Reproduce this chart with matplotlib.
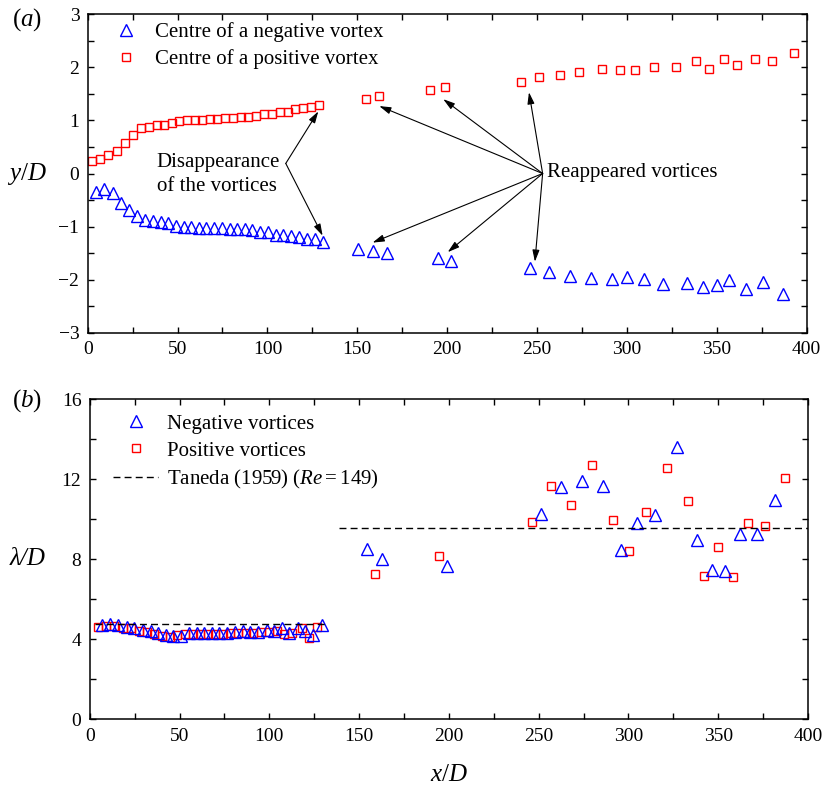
import matplotlib
matplotlib.use("Agg")
import matplotlib.pyplot as plt
from matplotlib.ticker import MultipleLocator

plt.rcParams['font.family'] = ['Liberation Serif', 'DejaVu Serif']
plt.rcParams['mathtext.fontset'] = 'custom'
plt.rcParams['mathtext.rm'] = 'Liberation Serif'
plt.rcParams['mathtext.it'] = 'Liberation Serif:italic'
plt.rcParams['font.size'] = 14

# ---- panel (a): vortex centre positions ----
neg_x = [4.4, 9.1, 13.9, 18.5, 23.2, 27.6, 32.1, 36.3, 40.6, 44.9, 49.3, 53.4, 57.7, 61.8, 66.0,
         70.3, 74.5, 79.0, 83.2, 87.3, 91.6, 96.0, 100.3, 104.6, 108.8, 113.3, 117.6, 122.0, 126.5, 131.1,
         150.2, 158.6, 166.5, 194.7, 202.1, 246.2, 256.6, 268.1, 279.8, 291.5, 299.9, 309.7, 319.9,
         333.6, 342.3, 349.9, 356.9, 366.4, 375.7, 386.6]
neg_y = [-0.35, -0.30, -0.37, -0.55, -0.69, -0.80, -0.88, -0.90, -0.92, -0.94, -0.99, -1.01, -1.01, -1.02, -1.02,
         -1.02, -1.03, -1.04, -1.05, -1.05, -1.06, -1.11, -1.11, -1.16, -1.16, -1.17, -1.20, -1.24, -1.24, -1.29,
         -1.42, -1.45, -1.49, -1.59, -1.64, -1.78, -1.86, -1.93, -1.96, -1.98, -1.94, -1.98, -2.08,
         -2.06, -2.13, -2.09, -2.01, -2.17, -2.05, -2.27]
pos_x = [2.2, 6.8, 11.5, 16.1, 20.8, 25.2, 29.8, 34.1, 38.6, 42.6, 46.9, 51.0, 55.2, 59.5, 63.8,
         67.9, 72.1, 76.4, 80.8, 85.1, 89.3, 93.8, 98.1, 102.4, 106.8, 111.3, 115.5, 119.8, 124.2, 128.7,
         154.8, 162.2, 190.4, 198.8, 241.2, 251.1, 262.8, 273.5, 286.1, 296.0, 304.5, 314.9, 327.5,
         338.4, 345.5, 354.2, 361.2, 371.2, 380.9, 393.0]
pos_y = [0.23, 0.27, 0.34, 0.42, 0.58, 0.72, 0.85, 0.87, 0.91, 0.92, 0.95, 0.99, 1.01, 1.01, 1.01,
         1.02, 1.02, 1.04, 1.05, 1.07, 1.06, 1.09, 1.12, 1.12, 1.16, 1.16, 1.22, 1.24, 1.25, 1.29,
         1.41, 1.46, 1.57, 1.63, 1.73, 1.81, 1.86, 1.91, 1.96, 1.94, 1.94, 2.01, 2.01,
         2.11, 1.97, 2.15, 2.05, 2.15, 2.11, 2.26]

# annotation anchors (data coords)
disappear_from = (110.2, 0.19)
disappear_to = [(128.3, 1.17), (130.7, -1.17)]
reappear_from = (253.1, 0.0)
reappear_to = [(162.2, 1.27), (197.8, 1.40), (245.5, 1.53),
               (158.5, -1.30), (200.3, -1.48), (248.8, -1.66)]

# ---- panel (b): wavelength ----
neg_lx = [6.7, 11.3, 15.9, 20.6, 24.9, 29.5, 34.0, 38.2, 42.3, 46.6, 51.0, 55.3, 59.6, 63.6, 67.9,
          72.2, 76.5, 80.9, 85.2, 89.4, 93.9, 98.6, 102.8, 106.9, 111.1, 115.8, 120.1, 124.5, 129.2,
          154.2, 163.0, 198.8, 251.5, 262.3, 274.1, 286.0, 295.9, 304.9, 315.0, 326.9, 338.4,
          346.4, 353.9, 361.9, 371.4, 381.4]
neg_l = [4.72, 4.75, 4.70, 4.63, 4.57, 4.47, 4.42, 4.30, 4.20, 4.17, 4.18, 4.30, 4.30, 4.30, 4.30,
         4.30, 4.33, 4.37, 4.42, 4.38, 4.35, 4.47, 4.43, 4.55, 4.30, 4.55, 4.42, 4.22, 4.72,
         8.50, 8.02, 7.68, 10.28, 11.63, 11.92, 11.65, 8.47, 9.83, 10.23, 13.63, 8.95,
         7.48, 7.40, 9.27, 9.27, 10.98]
pos_lx = [4.4, 9.1, 13.7, 18.4, 22.8, 27.3, 31.7, 36.0, 40.3, 44.5, 48.8, 53.1, 57.3, 61.4, 65.7,
          69.9, 74.0, 78.3, 82.6, 86.9, 91.1, 95.4, 99.7, 104.1, 108.4, 112.7, 118.1, 122.3, 126.4,
          158.7, 194.5, 246.3, 257.0, 268.2, 279.9, 291.4, 300.5, 310.0, 321.3, 333.2, 342.1,
          350.0, 358.1, 366.4, 376.2, 387.2]
pos_l = [4.60, 4.68, 4.67, 4.58, 4.55, 4.43, 4.35, 4.25, 4.17, 4.13, 4.23, 4.27, 4.27, 4.25, 4.25,
         4.27, 4.27, 4.33, 4.33, 4.30, 4.33, 4.35, 4.35, 4.40, 4.27, 4.30, 4.55, 4.05, 4.63,
         7.25, 8.18, 9.88, 11.67, 10.70, 12.72, 9.95, 8.42, 10.37, 12.57, 10.93, 7.18,
         8.60, 7.10, 9.83, 9.68, 12.08]
taneda_x1 = [3, 131]
taneda_y1 = [4.78, 4.78]
taneda_x2 = [139, 400]
taneda_y2 = [9.58, 9.58]

BLUE = '#0000ff'
RED = '#ff0000'
TXT = 15

fig = plt.figure(figsize=(8.24, 7.87), dpi=100)
ax1 = fig.add_axes([0.1064, 0.577, 0.8726, 0.405])
ax2 = fig.add_axes([0.1089, 0.086, 0.8717, 0.4066])


def style_axes(ax, ymaj, ymin):
    ax.xaxis.set_major_locator(MultipleLocator(50))
    ax.xaxis.set_minor_locator(MultipleLocator(25))
    ax.yaxis.set_major_locator(MultipleLocator(ymaj))
    ax.yaxis.set_minor_locator(MultipleLocator(ymin))
    ax.tick_params(which='both', direction='in', top=True, right=True, width=1.0, labelsize=14)
    ax.tick_params(which='major', length=4, pad=6)
    ax.tick_params(which='minor', length=4)
    for s in ax.spines.values():
        s.set_linewidth(1.1)


mk = dict(linestyle='none', markerfacecolor='none', markeredgewidth=1.0)

# panel (a)
ax1.plot(pos_x, pos_y, marker='s', markersize=5.5, color=RED, label='Centre of a positive vortex', **mk)
ax1.plot(neg_x, neg_y, marker='^', markersize=8, color=BLUE, label='Centre of a negative vortex', **mk)
ax1.set_xlim(0, 400)
ax1.set_ylim(-3, 3)
style_axes(ax1, 1, 0.5)
ax1.set_ylabel('$y/D$', rotation=0, fontsize=18, ha='center', va='center')
ax1.yaxis.set_label_coords(-0.084, 0.5)

h, l = ax1.get_legend_handles_labels()
ax1.legend(h[::-1], l[::-1], loc='upper left', bbox_to_anchor=(0.026, 0.974), frameon=False,
           borderpad=0, borderaxespad=0, handlelength=1.87, handletextpad=0.47, labelspacing=0.33,
           fontsize=TXT)

arr = dict(arrowstyle='-|>,head_length=0.5,head_width=0.15', color='k', lw=0.8,
           shrinkA=0, shrinkB=0, mutation_scale=14)
ax1.text(38.4, -0.02, 'Disappearance\nof the vortices', ha='left', va='center', fontsize=TXT, linespacing=1.3)
for tgt in disappear_to:
    ax1.annotate('', xy=tgt, xytext=disappear_from, arrowprops=arr)
ax1.text(255.7, 0.02, 'Reappeared vortices', ha='left', va='center', fontsize=TXT)
for tgt in reappear_to:
    ax1.annotate('', xy=tgt, xytext=reappear_from, arrowprops=arr)

# panel (b)
ax2.plot(pos_lx, pos_l, marker='s', markersize=5.5, color=RED, label='Positive vortices', **mk)
ax2.plot(neg_lx, neg_l, marker='^', markersize=8, color=BLUE, label='Negative vortices', **mk)
ax2.plot(taneda_x1, taneda_y1, color='k', lw=1.0, linestyle=(0, (5, 3)),
         label='Taneda (1959) ($Re=149$)')
ax2.plot(taneda_x2, taneda_y2, color='k', lw=1.0, linestyle=(0, (5, 3)))
ax2.set_xlim(0, 400)
ax2.set_ylim(0, 16)
style_axes(ax2, 4, 2)
ax2.set_ylabel('λ/D', rotation=0, fontsize=18, fontstyle='italic', ha='center', va='center')
ax2.yaxis.set_label_coords(-0.087, 0.5)
ax2.set_xlabel('$x/D$', fontsize=18, va='center')
ax2.xaxis.set_label_coords(0.5, -0.174)

h, l = ax2.get_legend_handles_labels()
ax2.legend([h[1], h[0], h[2]], [l[1], l[0], l[2]], loc='upper left', bbox_to_anchor=(0.0324, 0.954),
           frameon=False, borderpad=0, borderaxespad=0, handlelength=2.16, handletextpad=0.42,
           labelspacing=0.36, fontsize=TXT)

fig.text(0.033, 0.975, '($a$)', fontsize=18, ha='center', va='center')
fig.text(0.033, 0.4905, '($b$)', fontsize=18, ha='center', va='center')

fig.savefig('out.png', dpi=100)
